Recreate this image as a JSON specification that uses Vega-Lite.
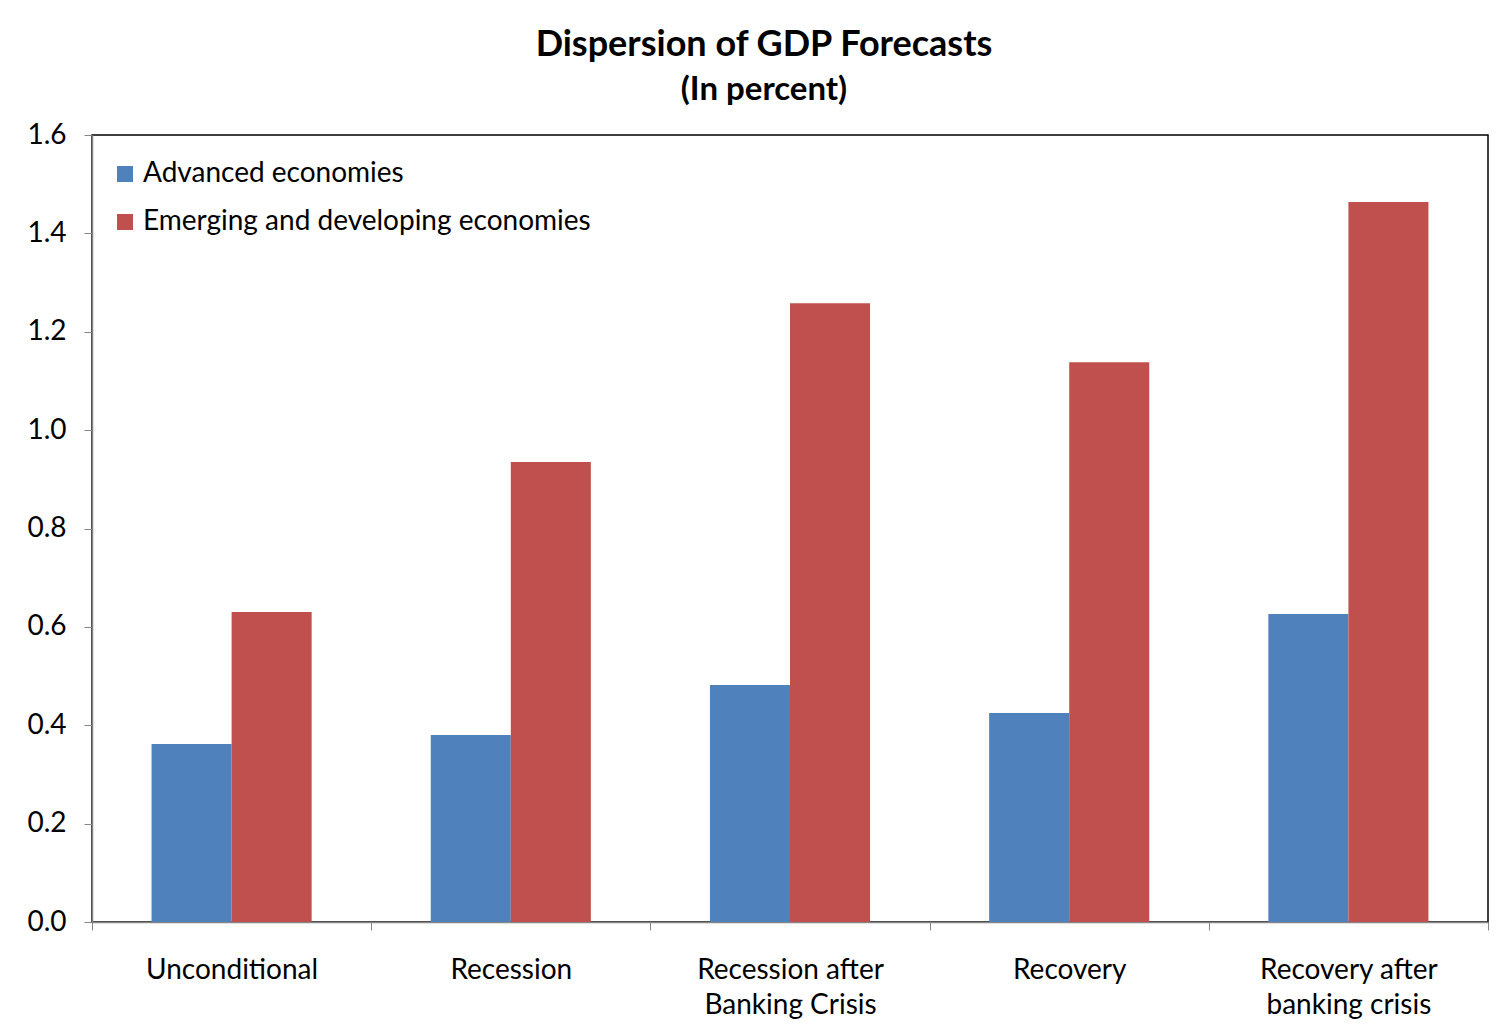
{
  "$schema": "https://vega.github.io/schema/vega-lite/v6.json",
  "autosize": {"type": "none"},
  "width": 1396,
  "height": 787,
  "padding": {"left": 92, "top": 135, "right": 17, "bottom": 106},
  "background": "white",
  "title": {
    "text": "Dispersion of GDP Forecasts",
    "subtitle": "(In percent)",
    "anchor": "middle",
    "dx": -26,
    "offset": 13,
    "font": "Lato",
    "fontSize": 36,
    "fontWeight": "bold",
    "color": "#000000",
    "subtitleFont": "Lato",
    "subtitleFontSize": 33,
    "subtitleFontWeight": "bold",
    "subtitleColor": "#000000",
    "subtitlePadding": 10
  },
  "data": {
    "values": [
      {"category": "Unconditional", "group": "Advanced economies", "value": 0.362},
      {"category": "Unconditional", "group": "Emerging and developing economies", "value": 0.630},
      {"category": "Recession", "group": "Advanced economies", "value": 0.380},
      {"category": "Recession", "group": "Emerging and developing economies", "value": 0.935},
      {"category": "Recession after Banking Crisis", "group": "Advanced economies", "value": 0.482},
      {"category": "Recession after Banking Crisis", "group": "Emerging and developing economies", "value": 1.258},
      {"category": "Recovery", "group": "Advanced economies", "value": 0.425},
      {"category": "Recovery", "group": "Emerging and developing economies", "value": 1.138},
      {"category": "Recovery after banking crisis", "group": "Advanced economies", "value": 0.626},
      {"category": "Recovery after banking crisis", "group": "Emerging and developing economies", "value": 1.464}
    ]
  },
  "mark": {"type": "bar"},
  "encoding": {
    "x": {
      "field": "category",
      "type": "nominal",
      "sort": null,
      "scale": {"paddingInner": 0, "paddingOuter": 0},
      "axis": {
        "title": null,
        "labelAngle": 0,
        "tickBand": "extent",
        "tickSize": 8,
        "tickColor": "#868686",
        "domainColor": "#868686",
        "domainWidth": 1.5,
        "labelFont": "Lato",
        "labelFontSize": 28,
        "labelColor": "#000000",
        "labelPadding": 26,
        "labelLineHeight": 35,
        "labelBaseline": "top",
        "labelLimit": 0,
        "labelExpr": "indexof(datum.label, ' after ') > 0 ? [slice(datum.label, 0, indexof(datum.label, ' after ') + 6), slice(datum.label, indexof(datum.label, ' after ') + 7)] : datum.label"
      }
    },
    "xOffset": {
      "field": "group",
      "type": "nominal",
      "sort": ["Advanced economies", "Emerging and developing economies"],
      "scale": {"paddingInner": 0, "paddingOuter": 0.744}
    },
    "y": {
      "field": "value",
      "type": "quantitative",
      "scale": {"domain": [0, 1.6], "nice": false},
      "axis": {
        "title": null,
        "values": [0, 0.2, 0.4, 0.6, 0.8, 1.0, 1.2, 1.4, 1.6],
        "format": ".1f",
        "grid": false,
        "tickSize": 8,
        "tickColor": "#868686",
        "domainColor": "#868686",
        "domainWidth": 1.5,
        "labelFont": "Lato",
        "labelFontSize": 28,
        "labelColor": "#000000",
        "labelPadding": 18
      }
    },
    "color": {
      "field": "group",
      "type": "nominal",
      "sort": ["Advanced economies", "Emerging and developing economies"],
      "scale": {"range": ["#4F81BD", "#C0504D"]},
      "legend": {
        "title": null,
        "orient": "none",
        "legendX": 19,
        "legendY": 25,
        "symbolType": "square",
        "symbolSize": 256,
        "symbolStrokeWidth": 0,
        "labelFont": "Lato",
        "labelFontSize": 28,
        "labelColor": "#000000",
        "labelOffset": 4,
        "labelLimit": 0,
        "rowPadding": 20
      }
    }
  },
  "config": {
    "view": {"stroke": "#000000", "strokeWidth": 1.5}
  }
}
